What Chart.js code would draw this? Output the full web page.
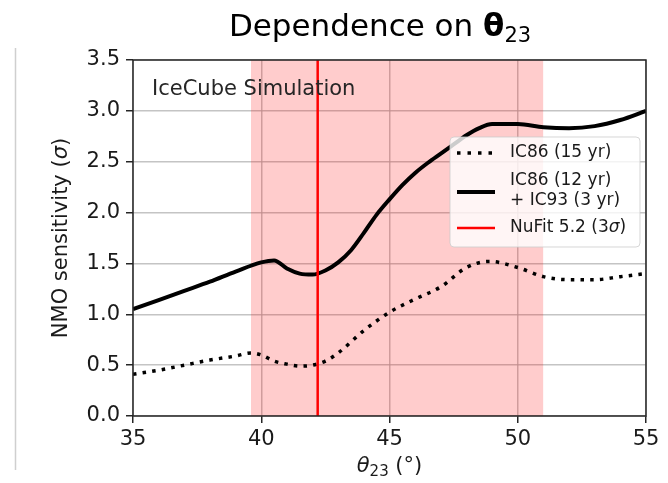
<!DOCTYPE html>
<html>
<head>
<meta charset="utf-8">
<title>Dependence on θ23</title>
<script src="https://cdn.jsdelivr.net/npm/chart.js@4.4.1/dist/chart.umd.min.js"></script>
<style>
  html, body { margin: 0; padding: 0; background: #fff; }
  #wrap { width: 668px; height: 483px; position: relative; }
</style>
</head>
<body>
<div id="wrap"><canvas id="nmoChart" width="668" height="483"></canvas></div>
<script>
// theta23 (degrees) and NMO sensitivity (sigma) for each configuration
const thetaIC86 = [35, 36, 37, 38, 39, 39.6, 40, 40.5, 41, 41.5, 42, 42.5, 43, 44, 45, 46, 47, 48, 48.9, 50, 51, 52, 53, 54, 55];
const sensIC86  = [0.41, 0.45, 0.50, 0.55, 0.59, 0.62, 0.60, 0.54, 0.51, 0.49, 0.50, 0.54, 0.62, 0.84, 1.02, 1.15, 1.27, 1.46, 1.52, 1.46, 1.37, 1.34, 1.34, 1.37, 1.40];

const thetaCombined = [35, 36, 37, 38, 39, 40, 40.5, 41, 41.5, 42, 42.5, 43, 43.5, 44, 44.5, 45, 45.5, 46, 46.5, 47, 47.5, 48, 48.5, 49, 50, 51, 52, 53, 54, 55];
const sensCombined  = [1.05, 1.14, 1.23, 1.32, 1.42, 1.51, 1.53, 1.45, 1.40, 1.39, 1.43, 1.51, 1.63, 1.80, 1.98, 2.13, 2.27, 2.39, 2.49, 2.58, 2.67, 2.76, 2.83, 2.87, 2.87, 2.84, 2.83, 2.85, 2.91, 3.00];

// NuFit 5.2 best fit and 3 sigma range
const nufitBest = 42.2;
const nufitRange = [39.6, 51.0];

const xTicks = [35, 40, 45, 50, 55];
const yTicks = [0.0, 0.5, 1.0, 1.5, 2.0, 2.5, 3.0, 3.5];

const FONT = '"DejaVu Sans", sans-serif';
const TEXT = '#1a1a1a';

const toPoints = (xs, ys) => xs.map((x, i) => ({ x: x, y: ys[i] }));
const yTop = yTicks[yTicks.length - 1];

// draw a row of text pieces (different fonts / offsets) centred at x
function drawRuns(ctx, runs, x, y) {
  let total = 0;
  runs.forEach(r => { ctx.font = r.font; r.w = ctx.measureText(r.text).width; total += r.w; });
  let cx = x - total / 2;
  runs.forEach(r => {
    ctx.font = r.font;
    ctx.fillText(r.text, cx, y + (r.dy || 0));
    cx += r.w;
  });
}

function drawRunsLeft(ctx, runs, x, y) {
  let cx = x;
  runs.forEach(r => {
    ctx.font = r.font;
    ctx.fillText(r.text, cx, y + (r.dy || 0));
    cx += ctx.measureText(r.text).width;
  });
}

const decorations = {
  id: 'decorations',
  beforeDraw(chart) {
    const ctx = chart.ctx;
    ctx.save();
    ctx.fillStyle = '#fff';
    ctx.fillRect(0, 0, chart.width, chart.height);
    // thin page rule at the left
    ctx.strokeStyle = '#cfcfcf';
    ctx.lineWidth = 1.5;
    ctx.beginPath();
    ctx.moveTo(15.5, 48);
    ctx.lineTo(15.5, 470);
    ctx.stroke();
    ctx.restore();
  },
  afterDatasetsDraw(chart) {
    const ctx = chart.ctx;
    const a = chart.chartArea;
    ctx.save();

    // axes frame
    ctx.strokeStyle = '#262626';
    ctx.lineWidth = 1.5;
    ctx.strokeRect(a.left, a.top, a.right - a.left, a.bottom - a.top);

    // annotation
    ctx.fillStyle = '#262626';
    ctx.textBaseline = 'middle';
    ctx.textAlign = 'left';
    ctx.font = `21px ${FONT}`;
    ctx.fillText('IceCube Simulation', 152, 90);

    // legend
    const lx = 450, ly = 137, lw = 190, lh = 110;
    ctx.beginPath();
    ctx.roundRect(lx, ly, lw, lh, 4);
    ctx.fillStyle = 'rgba(255,255,255,0.8)';
    ctx.fill();
    ctx.strokeStyle = 'rgba(204,204,204,0.8)';
    ctx.lineWidth = 1;
    ctx.stroke();

    const sample = (y, color, width, dash) => {
      ctx.save();
      ctx.strokeStyle = color;
      ctx.lineWidth = width;
      ctx.setLineDash(dash);
      ctx.beginPath();
      ctx.moveTo(457, y);
      ctx.lineTo(495, y);
      ctx.stroke();
      ctx.restore();
    };
    sample(153, '#000', 3.5, [3.5, 7]);
    sample(192, '#000', 4, []);
    sample(228, '#ff0000', 2.5, []);

    ctx.fillStyle = TEXT;
    ctx.textBaseline = 'middle';
    ctx.font = `17px ${FONT}`;
    ctx.fillText('IC86 (15 yr)', 510, 153);
    ctx.fillText('IC86 (12 yr)', 510, 181);
    ctx.fillText('+ IC93 (3 yr)', 510, 201);
    drawRunsLeft(ctx, [
      { text: 'NuFit 5.2 (3', font: `17px ${FONT}` },
      { text: 'σ', font: `italic 17px ${FONT}` },
      { text: ')', font: `17px ${FONT}` }
    ], 510, 228);

    ctx.restore();
  },
  afterDraw(chart) {
    const ctx = chart.ctx;
    const a = chart.chartArea;
    ctx.save();
    ctx.textBaseline = 'alphabetic';
    ctx.textAlign = 'left';

    // title
    ctx.fillStyle = '#000';
    drawRuns(ctx, [
      { text: 'Dependence on ', font: `31px ${FONT}` },
      { text: 'θ', font: `bold 31px ${FONT}` },
      { text: '23', font: `21px ${FONT}`, dy: 6 }
    ], 380, 36);
    ctx.fillStyle = TEXT;

    // x axis title
    drawRuns(ctx, [
      { text: 'θ', font: `italic 21px ${FONT}` },
      { text: '23', font: `15px ${FONT}`, dy: 4 },
      { text: ' (°)', font: `21px ${FONT}` }
    ], (a.left + a.right) / 2, 472);

    // y axis title
    ctx.translate(67, (a.top + a.bottom) / 2);
    ctx.rotate(-Math.PI / 2);
    drawRuns(ctx, [
      { text: 'NMO sensitivity (', font: `21px ${FONT}` },
      { text: 'σ', font: `italic 21px ${FONT}` },
      { text: ')', font: `21px ${FONT}` }
    ], 0, 0);
    ctx.restore();
  }
};

new Chart(document.getElementById('nmoChart'), {
  type: 'line',
  data: {
    datasets: [
      {
        label: 'NuFit 5.2 (3σ)',
        data: [{ x: nufitBest, y: yTicks[0] }, { x: nufitBest, y: yTop }],
        borderColor: '#ff0000',
        borderWidth: 2.5,
        pointRadius: 0,
        fill: false,
        order: 1
      },
      {
        label: 'IC86 (12 yr) + IC93 (3 yr)',
        data: toPoints(thetaCombined, sensCombined),
        borderColor: '#000',
        borderWidth: 4,
        pointRadius: 0,
        cubicInterpolationMode: 'monotone',
        fill: false,
        order: 2
      },
      {
        label: 'IC86 (15 yr)',
        data: toPoints(thetaIC86, sensIC86),
        borderColor: '#000',
        borderWidth: 3.5,
        borderDash: [3.5, 6.2],
        pointRadius: 0,
        cubicInterpolationMode: 'monotone',
        fill: false,
        order: 3
      },
      {
        label: 'NuFit range',
        data: [{ x: nufitRange[0], y: yTop }, { x: nufitRange[1], y: yTop }],
        borderWidth: 0,
        pointRadius: 0,
        backgroundColor: 'rgba(255,0,0,0.2)',
        fill: 'start',
        order: 4
      }
    ]
  },
  options: {
    responsive: false,
    animation: false,
    devicePixelRatio: 1,
    layout: { padding: { left: 0, right: 22, top: 60, bottom: 0 } },
    plugins: {
      legend: { display: false },
      tooltip: { enabled: false },
      title: { display: false }
    },
    scales: {
      x: {
        type: 'linear',
        min: xTicks[0],
        max: xTicks[xTicks.length - 1],
        afterFit: s => { s.height = 67; },
        afterBuildTicks: s => { s.ticks = xTicks.map(v => ({ value: v })); },
        border: { display: false },
        grid: { color: 'rgba(176,176,176,0.75)', lineWidth: 1.5, tickLength: 7, tickColor: '#262626', tickWidth: 1.5 },
        ticks: {
          padding: 4,
          color: TEXT,
          font: { family: FONT, size: 21 },
          callback: v => String(v)
        }
      },
      y: {
        type: 'linear',
        min: yTicks[0],
        max: yTop,
        afterFit: s => { s.width = 133; },
        afterBuildTicks: s => { s.ticks = yTicks.map(v => ({ value: v })); },
        border: { display: false },
        grid: { color: 'rgba(176,176,176,0.75)', lineWidth: 1.5, tickLength: 7, tickColor: '#262626', tickWidth: 1.5 },
        ticks: {
          padding: 6,
          color: TEXT,
          font: { family: FONT, size: 21 },
          callback: v => v.toFixed(1)
        }
      }
    }
  },
  plugins: [decorations]
});
</script>
</body>
</html>
